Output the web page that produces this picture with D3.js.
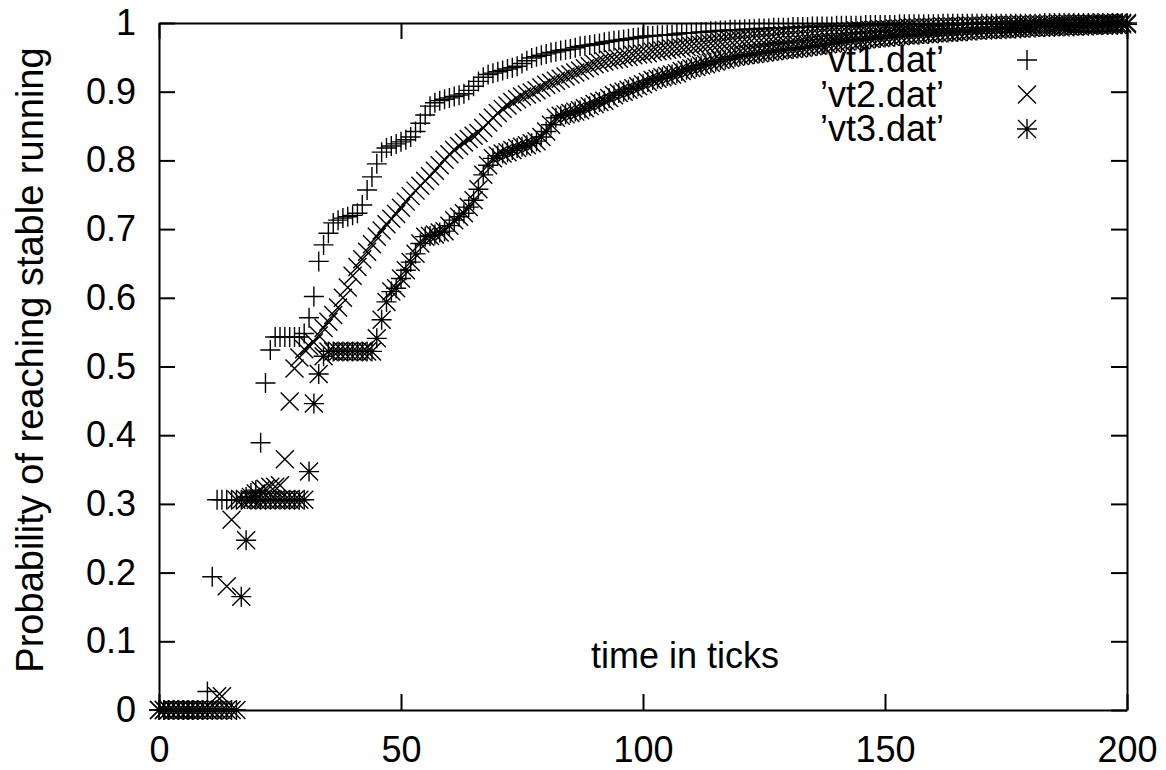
<!DOCTYPE html>
<html>
<head>
<meta charset="utf-8">
<script src="https://cdn.jsdelivr.net/npm/d3@7"></script>
<style>
  body { margin: 0; background: #fff; }
  text { font-family: "Liberation Sans", Arial, sans-serif; fill: #000; }
</style>
</head>
<body>
<div id="chart"></div>
<script>
// probability of reaching stable running, one value per tick 0..200
const vt1 = [0,0,0,0,0,0,0,0,0,0,
  0.027,0.194,0.306,0.306,0.306,0.306,0.306,0.306,0.310,0.316,
  0.320,0.389,0.476,0.524,0.543,0.543,0.543,0.543,0.543,0.543,
  0.548,0.571,0.602,0.653,0.677,0.694,0.709,0.713,0.716,0.718,
  0.720,0.723,0.735,0.757,0.776,0.795,0.812,0.818,0.821,0.824,
  0.827,0.830,0.834,0.842,0.854,0.866,0.879,0.884,0.887,0.889,
  0.891,0.893,0.895,0.897,0.902,0.908,0.915,0.921,0.925,0.927,
  0.929,0.931,0.933,0.935,0.937,0.941,0.945,0.949,0.951,0.953,
  0.955,0.957,0.958,0.960,0.961,0.962,0.964,0.966,0.967,0.968,
  0.969,0.970,0.972,0.973,0.974,0.975,0.976,0.977,0.978,0.979,
  0.980,0.981,0.981,0.982,0.982,0.983,0.983,0.984,0.985,0.985,
  0.986,0.986,0.987,0.987,0.988,0.988,0.989,0.989,0.990,0.990,
  0.990,0.991,0.991,0.991,0.992,0.992,0.992,0.993,0.993,0.993,
  0.993,0.994,0.994,0.994,0.994,0.995,0.995,0.995,0.995,0.995,
  0.996,0.996,0.996,0.996,0.996,0.996,0.997,0.997,0.997,0.997,
  0.997,0.997,0.997,0.998,0.998,0.998,0.998,0.998,0.998,0.998,
  0.998,0.998,0.999,0.999,0.999,0.999,0.999,0.999,0.999,0.999,
  0.999,0.999,0.999,0.999,0.999,0.999,0.999,0.999,0.999,0.999,
  0.999,0.999,0.999,1,1,1,1,1,1,1,
  1,1,1,1,1,1,1,1,1,1,
  1]

const vt2 = [0,0,0,0,0,0,0,0,0,0,
  0,0,0.020,0.020,0.180,0.277,0.306,0.306,0.306,0.310,
  0.315,0.320,0.322,0.325,0.325,0.327,0.365,0.449,0.497,0.513,
  0.525,0.530,0.535,0.545,0.556,0.565,0.575,0.586,0.600,0.615,
  0.632,0.645,0.656,0.667,0.678,0.689,0.698,0.707,0.715,0.722,
  0.731,0.740,0.748,0.756,0.763,0.770,0.777,0.785,0.793,0.801,
  0.809,0.815,0.821,0.826,0.831,0.836,0.840,0.847,0.855,0.862,
  0.869,0.875,0.880,0.885,0.889,0.893,0.896,0.899,0.902,0.906,
  0.910,0.913,0.916,0.919,0.922,0.925,0.928,0.931,0.934,0.937,
  0.940,0.942,0.944,0.946,0.947,0.948,0.950,0.951,0.953,0.954,
  0.955,0.956,0.958,0.959,0.960,0.961,0.962,0.963,0.964,0.965,
  0.966,0.967,0.968,0.969,0.970,0.971,0.972,0.973,0.974,0.975,
  0.976,0.976,0.977,0.978,0.978,0.979,0.979,0.980,0.981,0.982,
  0.982,0.983,0.983,0.984,0.984,0.985,0.985,0.986,0.986,0.987,
  0.987,0.987,0.988,0.988,0.989,0.989,0.989,0.990,0.990,0.991,
  0.991,0.991,0.992,0.992,0.992,0.993,0.993,0.993,0.994,0.994,
  0.994,0.994,0.995,0.995,0.995,0.995,0.995,0.996,0.996,0.996,
  0.996,0.996,0.997,0.997,0.997,0.997,0.997,0.997,0.998,0.998,
  0.998,0.998,0.998,0.998,0.998,0.998,0.999,0.999,0.999,0.999,
  0.999,0.999,0.999,0.999,0.999,1,1,1,1,1,
  1]

const vt3 = [0,0,0,0,0,0,0,0,0,0,
  0,0,0,0,0,0,0,0.165,0.247,0.306,
  0.306,0.306,0.306,0.306,0.306,0.306,0.306,0.306,0.306,0.306,
  0.306,0.347,0.446,0.489,0.515,0.522,0.522,0.522,0.522,0.522,
  0.522,0.522,0.522,0.522,0.522,0.541,0.568,0.594,0.609,0.614,
  0.628,0.640,0.652,0.664,0.679,0.689,0.690,0.692,0.695,0.697,
  0.705,0.713,0.718,0.723,0.732,0.742,0.758,0.779,0.793,0.803,
  0.807,0.810,0.812,0.815,0.818,0.820,0.822,0.825,0.828,0.834,
  0.842,0.852,0.862,0.865,0.867,0.869,0.871,0.873,0.876,0.879,
  0.882,0.885,0.887,0.891,0.895,0.898,0.900,0.903,0.905,0.908,
  0.911,0.914,0.917,0.919,0.921,0.923,0.925,0.927,0.930,0.932,
  0.934,0.936,0.938,0.940,0.942,0.944,0.946,0.947,0.949,0.951,
  0.952,0.953,0.954,0.955,0.956,0.957,0.958,0.959,0.960,0.961,
  0.962,0.962,0.963,0.964,0.965,0.966,0.967,0.968,0.969,0.970,
  0.971,0.972,0.973,0.974,0.975,0.975,0.976,0.977,0.978,0.978,
  0.979,0.980,0.980,0.981,0.982,0.982,0.983,0.983,0.984,0.984,
  0.985,0.985,0.986,0.986,0.987,0.987,0.988,0.988,0.989,0.989,
  0.990,0.990,0.990,0.991,0.991,0.991,0.992,0.992,0.992,0.993,
  0.993,0.993,0.994,0.994,0.994,0.994,0.995,0.995,0.995,0.995,
  0.996,0.996,0.996,0.996,0.997,0.997,0.997,0.997,0.997,0.998,
  0.998]

const seriesNames = ['\u2019vt1.dat\u2019', '\u2019vt2.dat\u2019', '\u2019vt3.dat\u2019']
const xTicks = [0, 50, 100, 150, 200]
const yTicks = [0, 0.1, 0.2, 0.3, 0.4, 0.5, 0.6, 0.7, 0.8, 0.9, 1]
const xLabel = 'time in ticks'
const yLabel = 'Probability of reaching stable running'

const width = 1166, height = 770
const margin = { left: 159, right: 39, top: 23, bottom: 60 }
const fontSize = 36

// gnuplot point types: 1 = plus, 2 = cross, 3 = star
const plusPath = 'M-10,0H10M0,-10V10'
const crossPath = 'M-9,-9L9,9M-9,9L9,-9'
const markers = [plusPath, crossPath, plusPath + crossPath]

const svg = d3.select('#chart').append('svg')
  .attr('width', width)
  .attr('height', height)

svg.append('rect').attr('width', width).attr('height', height).attr('fill', '#fff')

const x = d3.scaleLinear().domain([0, 200]).range([margin.left, width - margin.right])
const y = d3.scaleLinear().domain([0, 1]).range([height - margin.bottom, margin.top])

const tickLen = 16

function styleAxis(g) {
  g.selectAll('.domain').attr('stroke-width', 2)
  g.selectAll('.tick line').attr('stroke-width', 2)
  g.selectAll('.tick text')
    .style('font-size', fontSize + 'px')
    .style('font-family', '"Liberation Sans", Arial, sans-serif')
    .attr('fill', '#000')
}

svg.append('g')
  .attr('transform', 'translate(0,' + y(0) + ')')
  .call(d3.axisBottom(x).tickValues(xTicks).tickSizeInner(-tickLen).tickSizeOuter(0).tickPadding(26).tickFormat(d3.format('d')))
  .call(styleAxis)

svg.append('g')
  .attr('transform', 'translate(' + x(0) + ',0)')
  .call(d3.axisLeft(y).tickValues(yTicks).tickSizeInner(-tickLen).tickSizeOuter(0).tickPadding(23).tickFormat(d => d3.format('~g')(d)))
  .call(styleAxis)

svg.append('g')
  .attr('transform', 'translate(0,' + y(1) + ')')
  .call(d3.axisTop(x).tickValues(xTicks).tickSizeInner(-tickLen).tickSizeOuter(0).tickFormat(''))
  .call(styleAxis)

svg.append('g')
  .attr('transform', 'translate(' + x(200) + ',0)')
  .call(d3.axisRight(y).tickValues(yTicks).tickSizeInner(-tickLen).tickSizeOuter(0).tickFormat(''))
  .call(styleAxis)

// axis titles
svg.append('text')
  .attr('transform', 'translate(43,360)rotate(-90)')
  .attr('text-anchor', 'middle')
  .style('font-size', '38px')
  .text(yLabel)

svg.append('text')
  .attr('x', 685)
  .attr('y', 668)
  .attr('text-anchor', 'middle')
  .style('font-size', fontSize + 'px')
  .text(xLabel)

// key
const key = svg.append('g')
seriesNames.forEach((name, i) => {
  const cy = 60 + i * 34.5
  key.append('text')
    .attr('x', 944)
    .attr('y', cy + 12)
    .attr('text-anchor', 'end')
    .style('font-size', fontSize + 'px')
    .text(name)
  key.append('path')
    .attr('d', markers[i])
    .attr('transform', 'translate(1027,' + cy + ')')
    .attr('fill', 'none')
    .attr('stroke', '#000')
    .attr('stroke-width', 1.4)
})

// points
const series = [vt1, vt2, vt3]
series.forEach((values, i) => {
  svg.append('g')
    .selectAll('path')
    .data(values)
    .enter().append('path')
    .attr('d', markers[i])
    .attr('transform', (d, t) => 'translate(' + x(t) + ',' + y(d) + ')')
    .attr('fill', 'none')
    .attr('stroke', '#000')
    .attr('stroke-width', 1.4)
})
</script>
</body>
</html>
